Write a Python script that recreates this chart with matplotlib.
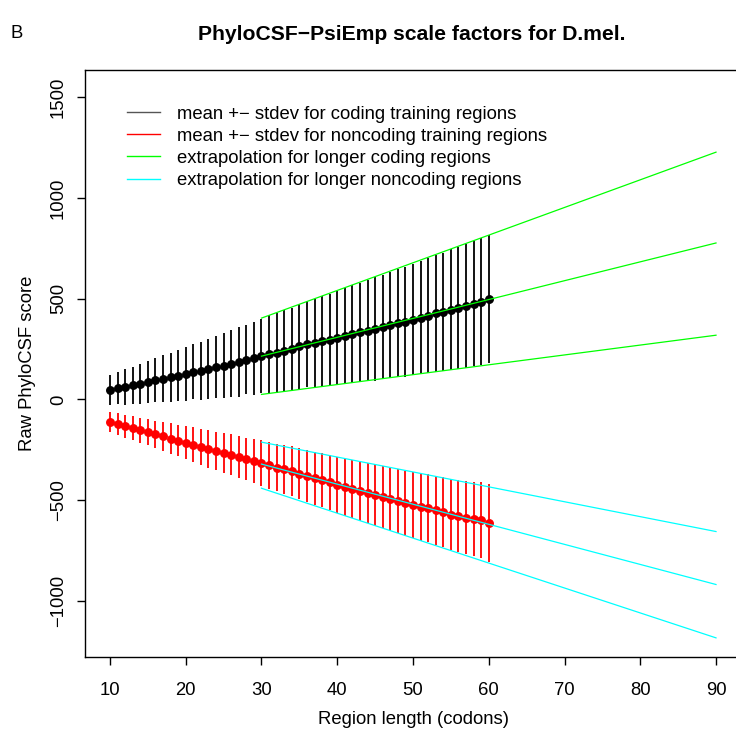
import numpy as np
import matplotlib
matplotlib.use('Agg')
import matplotlib.pyplot as plt

plt.rcParams.update({
    'font.family': ['Liberation Sans', 'DejaVu Sans'],
    'font.size': 13.3,
    'axes.linewidth': 1.0,
})

# region lengths (codons) of the training points
lengths = list(range(10, 61))

coding_mean = [48, 57, 62, 70, 77, 87, 95, 102, 110, 118, 127, 137, 143, 151, 161,
               168, 178, 186, 198, 204, 214, 224, 231, 241, 249, 263, 274, 280, 289,
               295, 307, 315, 325, 333, 342, 350, 360, 370, 380, 386, 395, 406, 416,
               428, 436, 446, 454, 464, 476, 486, 499]
coding_sd = [75, 80, 88, 93, 99, 104, 110, 117, 123, 128, 134, 137, 144, 149, 154,
             162, 166, 172, 173, 181, 184, 195, 197, 204, 206, 212, 214, 221, 223,
             229, 232, 238, 241, 247, 249, 256, 258, 264, 267, 273, 276, 282, 284,
             291, 293, 299, 302, 308, 310, 317, 319]

noncoding_mean = [-113, -123, -133, -143, -153, -163, -173, -183, -194, -204, -214,
                  -224, -236, -246, -256, -266, -274, -285, -295, -305, -315, -327,
                  -338, -347, -357, -368, -381, -391, -401, -411, -424, -436, -446,
                  -456, -466, -474, -484, -496, -504, -516, -524, -534, -540, -550,
                  -560, -573, -580, -587, -592, -598, -613]
noncoding_sd = [50, 54, 56, 60, 62, 65, 68, 72, 75, 77, 81, 85, 88, 92, 95, 98, 100,
                104, 106, 110, 113, 117, 119, 122, 124, 127, 129, 132, 134, 137, 139,
                142, 144, 147, 149, 152, 154, 157, 159, 162, 164, 167, 169, 172, 174,
                177, 179, 182, 184, 187, 192]

# extrapolation lines (from 30 to 90 codons)
extrap_x = [30, 90]
coding_hi = [404, 1228]
coding_mid = [215, 777]
coding_lo = [25, 319]
noncoding_hi = [-212, -656]
noncoding_mid = [-321, -919]
noncoding_lo = [-441, -1184]

xticks = [10, 20, 30, 40, 50, 60, 70, 80, 90]
yticks = [-1000, -500, 0, 500, 1000, 1500]

fig = plt.figure(figsize=(7.36, 7.31), dpi=100)
# right side of the box is cut off in the original, so the axes run past the edge
ax = fig.add_axes([85 / 736, 1 - 657 / 731, 656 / 736, 587 / 731])

ax.errorbar(lengths, coding_mean, yerr=coding_sd, fmt='o', color='black',
            ms=5.4, elinewidth=1.3, capsize=0, zorder=2)
ax.errorbar(lengths, noncoding_mean, yerr=noncoding_sd, fmt='o', color='red',
            ms=5.4, elinewidth=1.3, capsize=0, zorder=2)

for ys in (coding_hi, coding_mid, coding_lo):
    ax.plot(extrap_x, ys, color='#00ff00', lw=0.9, zorder=3)
for ys in (noncoding_hi, noncoding_mid, noncoding_lo):
    ax.plot(extrap_x, ys, color='#00ffff', lw=0.9, zorder=3)

ax.set_xlim(6.7, 93.3)
ax.set_ylim(-1279, 1636)
ax.set_xticks(xticks)
ax.set_yticks(yticks)
ax.set_yticklabels([str(v).replace('-', '\u2212') for v in yticks],
                   rotation=90, va='center')
ax.tick_params(axis='x', direction='out', length=6, width=1, pad=12)
ax.tick_params(axis='y', direction='out', length=6, width=1, pad=7)
ax.set_xlabel('Region length (codons)', labelpad=9)
ax.set_ylabel('Raw PhyloCSF score', labelpad=10)

handles = [plt.Line2D([], [], color=c, lw=1.0) for c in
           ('#555555', 'red', '#00ff00', '#00ffff')]
labels = ['mean +\u2212 stdev for coding training regions',
          'mean +\u2212 stdev for noncoding training regions',
          'extrapolation for longer coding regions',
          'extrapolation for longer noncoding regions']
ax.legend(handles, labels, loc='upper left', bbox_to_anchor=(0.053, 0.952),
          frameon=False, handlelength=1.8, handletextpad=0.9,
          labelspacing=0.28, borderaxespad=0)

fig.text(412 / 736, 1 - 34 / 731, 'PhyloCSF\u2212PsiEmp scale factors for D.mel.',
         ha='center', va='center', fontsize=15.2, fontweight='bold')
fig.text(10 / 736, 1 - 34 / 731, 'B', ha='left', va='center', fontsize=13.3)

fig.savefig('out.png', dpi=100)
